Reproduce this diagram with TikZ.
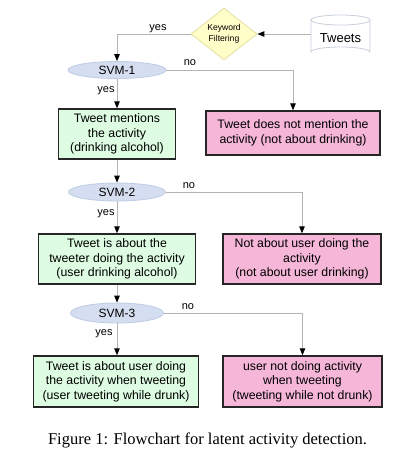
\documentclass[tikz,border=0pt]{standalone}
\usepackage{fontspec}
\setmainfont{Liberation Sans}
\newfontfamily\capfont{Liberation Serif}
\usetikzlibrary{shapes.geometric,arrows.meta}
\definecolor{boxgreen}{HTML}{DDFCE2}
\definecolor{boxpink}{HTML}{F5B6D8}
\definecolor{ellfill}{HTML}{D5DEF0}
\definecolor{elldraw}{HTML}{BFCBE6}
\definecolor{dfill}{HTML}{FFFDC8}
\definecolor{ddraw}{HTML}{E4E0A0}
\definecolor{conn}{HTML}{B4B4B4}
\definecolor{cyl}{HTML}{C8D0DC}
\tikzset{
  outbox/.style={draw=black!85, line width=1.4pt, inner sep=0pt, align=center,
    font=\fontsize{12.3}{14.5}\selectfont},
  yesbox/.style={outbox, fill=boxgreen},
  nobox/.style={outbox, fill=boxpink},
  svm/.style={ellipse, draw=elldraw, fill=ellfill, line width=0.8pt, inner sep=0pt,
    font=\fontsize{12}{14}\selectfont},
  conn/.style={draw=conn, line width=0.9pt, -{Triangle[length=7pt,width=5.5pt,color=black]}},
  lbl/.style={font=\fontsize{11}{13}\selectfont, inner sep=0pt}
}
\begin{document}
\begin{tikzpicture}[x=1pt,y=-1pt]
\useasboundingbox (0,0) rectangle (418,467);
\fill[white] (0,0) rectangle (418,467);
% Tweets cylinder
\draw[cyl, line width=0.8pt, fill=white] (311,20) -- (311,52) arc[start angle=180,end angle=360,x radius=29.5,y radius=5] -- (370,20);
\draw[cyl, line width=0.8pt, fill=white] (340.5,20) ellipse[x radius=29.5, y radius=5];
\node[minimum width=59, minimum height=42, inner sep=0pt, font=\fontsize{13}{15}\selectfont] (tw) at (340.5,38) {Tweets};
% Keyword filtering
\node[diamond, draw=ddraw, fill=dfill, line width=0.8pt, minimum width=66, minimum height=42, inner sep=0pt, align=center,
  font=\fontsize{8.6}{10.5}\selectfont] (kw) at (224,34) {Keyword\\Filtering};
% SVMs
\node[svm, minimum width=98, minimum height=17] (s1) at (117,70) {SVM-1};
\node[svm, minimum width=97, minimum height=18] (s2) at (117,192) {SVM-2};
\node[svm, minimum width=93, minimum height=20] (s3) at (117,313) {SVM-3};
% boxes
\node[yesbox, minimum width=117, minimum height=50] (g1) at (117,134) {Tweet mentions\\the activity\\(drinking alcohol)};
\node[nobox, minimum width=174, minimum height=44] (p1) at (293,133) {Tweet does not mention the\\activity (not about drinking)};
\node[yesbox, minimum width=157, minimum height=50] (g2) at (117,259) {Tweet is about the\\tweeter doing the activity\\(user drinking alcohol)};
\node[nobox, minimum width=158, minimum height=50] (p2) at (302,259) {Not about user doing the\\activity\\(not about user drinking)};
\node[yesbox, minimum width=165, minimum height=51] (g3) at (116,381.5) {Tweet is about user doing\\the activity when tweeting\\(user tweeting while drunk)};
\node[nobox, minimum width=159, minimum height=51] (p3) at (302.5,381.5) {user not doing activity\\when tweeting\\(tweeting while not drunk)};
% connectors
\draw[conn] (tw.west |- kw.east) -- (kw.east);
\draw[conn] (kw.west) -| (s1.north);
\draw[conn] (s1.east) -| (p1.north);
\draw[conn] (s1.south) -- (g1.north);
\draw[conn] (g1.south) -- (s2.north);
\draw[conn] (s2.east) -| (p2.north);
\draw[conn] (s2.south) -- (g2.north);
\draw[conn] (g2.south) -- (s3.north);
\draw[conn] (s3.east) -| (p3.north);
\draw[conn] (s3.south) -- (s3.south |- g3.north);
% labels
\node[lbl] (y0) at (158,29) {yes};
\node[lbl] (n1) at (190,63) {no};
\node[lbl] (y1) at (106,91) {yes};
\node[lbl] (n2) at (189,186) {no};
\node[lbl] (y2) at (106,214) {yes};
\node[lbl] (n3) at (188,307) {no};
\node[lbl] (y3) at (104,334) {yes};
% caption
\node[font=\capfont\fontsize{16.5}{19}\selectfont, inner sep=0pt] (cap) at (207.5,440) {Figure 1: Flowchart for latent activity detection.};
\end{tikzpicture}
\end{document}
